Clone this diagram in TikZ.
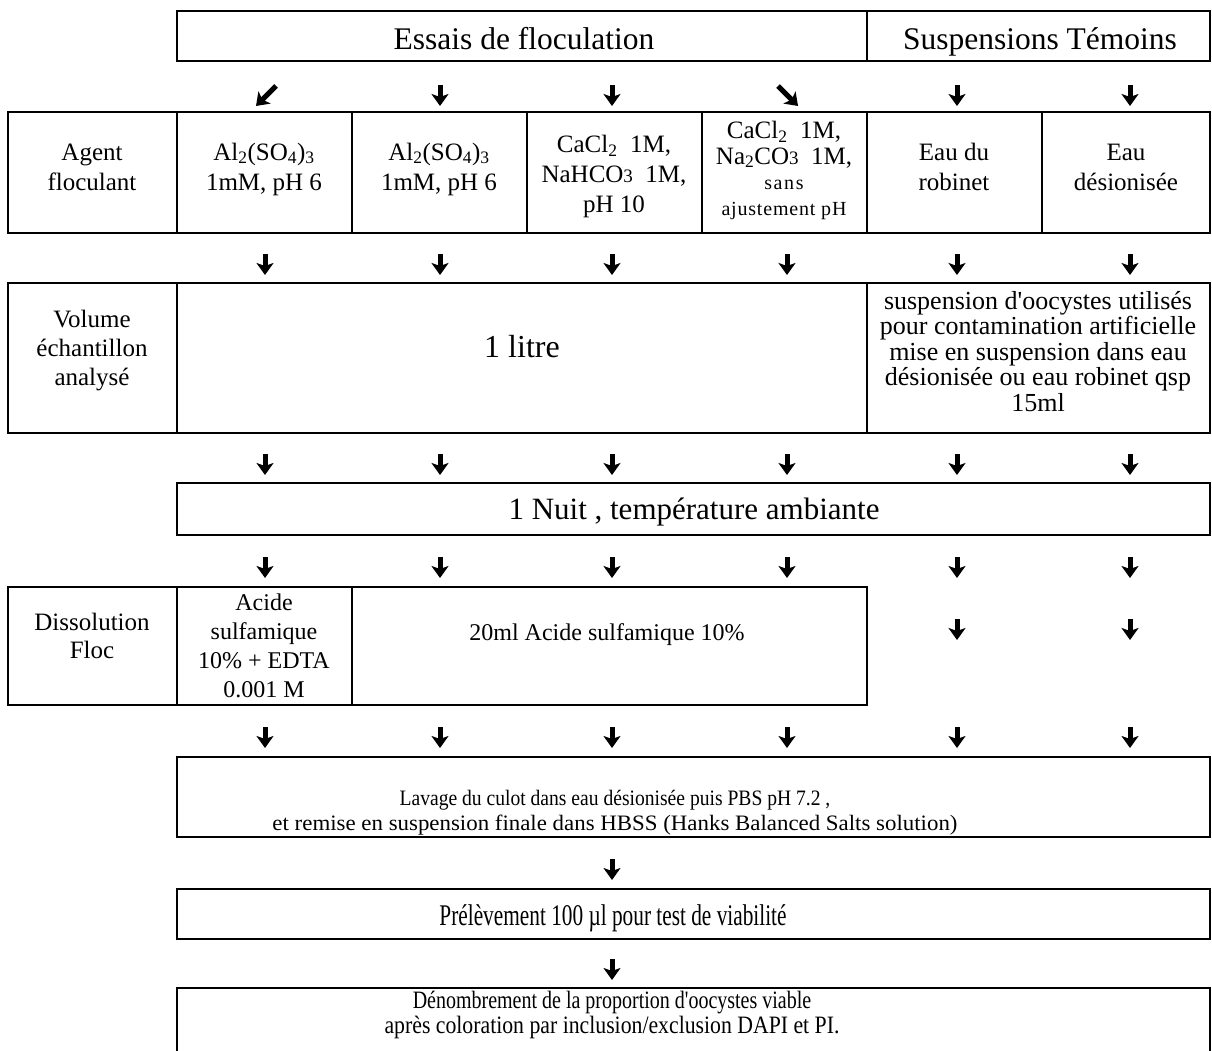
\documentclass[tikz,border=0pt]{standalone}
\usepackage{fontspec}
\setmainfont{Liberation Serif}
\usepackage{graphicx}
\usetikzlibrary{arrows.meta}
\newcommand\fs[2]{\fontsize{#1}{#2}\selectfont}
\newcommand\hx[2]{\scalebox{#1}[1]{#2}}
\newcommand\smallthree{{\fontsize{19}{19}\selectfont 3}}
\newcommand\ap{\textquotesingle}
\begin{document}
\begin{tikzpicture}[x=1pt,y=-1pt,
  box/.style={draw=black,line width=2.2pt},
  arr/.style={line width=5pt,-{Stealth[width=17pt,length=12pt,inset=3pt]}},
  txt/.style={inner sep=0pt,align=center,anchor=base}]
\path[use as bounding box,fill=white] (0,0) rectangle (1212,1051);
\clip (0,0) rectangle (1212,1051);
% boxes
\draw[box] (177,11) rectangle (1210,61);
\draw[box] (867,11) -- (867,61);
\draw[box] (8,112) rectangle (1210,233);
\foreach \x in {177,352,527,702,867,1042} \draw[box] (\x,112) -- (\x,233);
\draw[box] (8,283) rectangle (1210,433);
\foreach \x in {177,867} \draw[box] (\x,283) -- (\x,433);
\draw[box] (177,483) rectangle (1210,535);
\draw[box] (8,587) rectangle (867,705);
\foreach \x in {177,352} \draw[box] (\x,587) -- (\x,705);
\draw[box] (177,757) rectangle (1210,837);
\draw[box] (177,889) rectangle (1210,939);
\draw[box] (177,988) rectangle (1210,1075);
% arrows
\draw[arr] (276,86) -- (256,106);
\draw[arr] (778,86) -- (798,106);
\foreach \x in {440,612,957,1130} \draw[arr] (\x,85) -- (\x,106);
\foreach \y in {265,465,568,738} {
  \foreach \x in {265,440,612,787,957,1130} \draw[arr] (\x,\y-11) -- (\x,\y+10);
}
\foreach \x in {957,1130} \draw[arr] (\x,619) -- (\x,640);
\draw[arr] (612,859) -- (612,880);
\draw[arr] (612,959) -- (612,980);
% texts (anchor = baseline of last line)
\node[txt,font=\fs{31.5}{36}] (essais) at (524,50) {Essais de floculation};
\node[txt,font=\fs{31.5}{36}] (temoins) at (1040,50) {Suspensions Témoins};
\node[txt,font=\fs{25}{30}] (agent) at (92,190) {Agent\\floculant};
\node[txt,font=\fs{25}{30}] (alA) at (264,190) {Al\textsubscript{2}(SO\textsubscript{4})\textsubscript{3}\\1mM, pH 6};
\node[txt,font=\fs{25}{30}] (alB) at (439,190) {Al\textsubscript{2}(SO\textsubscript{4})\textsubscript{3}\\1mM, pH 6};
\node[txt,font=\fs{25}{29.5}] (cacl) at (614,212) {CaCl\textsubscript{2}\ \ 1M,\\NaHCO\smallthree\ \ 1M,\\pH 10};
\node[txt,font=\fs{25}{25.5}] (na) at (784,215) {CaCl\textsubscript{2}\ \ 1M,\\Na\textsubscript{2}CO\smallthree\ \ 1M,\\{\fs{20}{24}\addfontfeatures{LetterSpace=8}sans}\\{\fs{20}{24}\addfontfeatures{LetterSpace=4}ajustement pH}};
\node[txt,font=\fs{25}{30}] (robinet) at (954,190) {Eau du\\robinet};
\node[txt,font=\fs{25}{30}] (deion) at (1126,190) {Eau\\désionisée};
\node[txt,font=\fs{25}{29}] (volume) at (92,385) {Volume\\échantillon\\analysé};
\node[txt,font=\fs{32}{36}] (litre) at (522,357) {1 litre};
\node[txt,font=\fs{26}{25.5}] (susp) at (1038,411) {suspension d\ap oocystes utilisés\\pour contamination artificielle\\mise en suspension dans eau\\désionisée ou eau robinet qsp\\15ml};
\node[txt,font=\fs{31}{36}] (nuit) at (694,519) {1 Nuit , température ambiante};
\node[txt,font=\fs{25}{28}] (dissol) at (92,658) {Dissolution\\Floc};
\node[txt,font=\fs{24}{29}] (acide) at (264,697) {Acide\\sulfamique\\10\% + EDTA\\0.001 M};
\node[txt,font=\fs{24}{29}] (vingt) at (607,640) {20ml Acide sulfamique 10\%};
\node[txt,font=\fs{22}{25}] (lavage) at (615,830) {\hx{0.89}{Lavage du culot dans eau désionisée puis PBS pH 7.2 ,}\\\hx{1.04}{et remise en suspension finale dans HBSS (Hanks Balanced Salts solution)}};
\node[txt,font=\fs{30}{30}] (prelev) at (613,925) {\hx{0.71}{Prélèvement 100 µl pour test de viabilité}};
\node[txt,font=\fs{25}{25}] (denomb) at (612,1033) {\hx{0.80}{Dénombrement de la proportion d\ap oocystes viable}\\\hx{0.87}{après coloration par inclusion/exclusion DAPI et PI.}};
\end{tikzpicture}
\end{document}
